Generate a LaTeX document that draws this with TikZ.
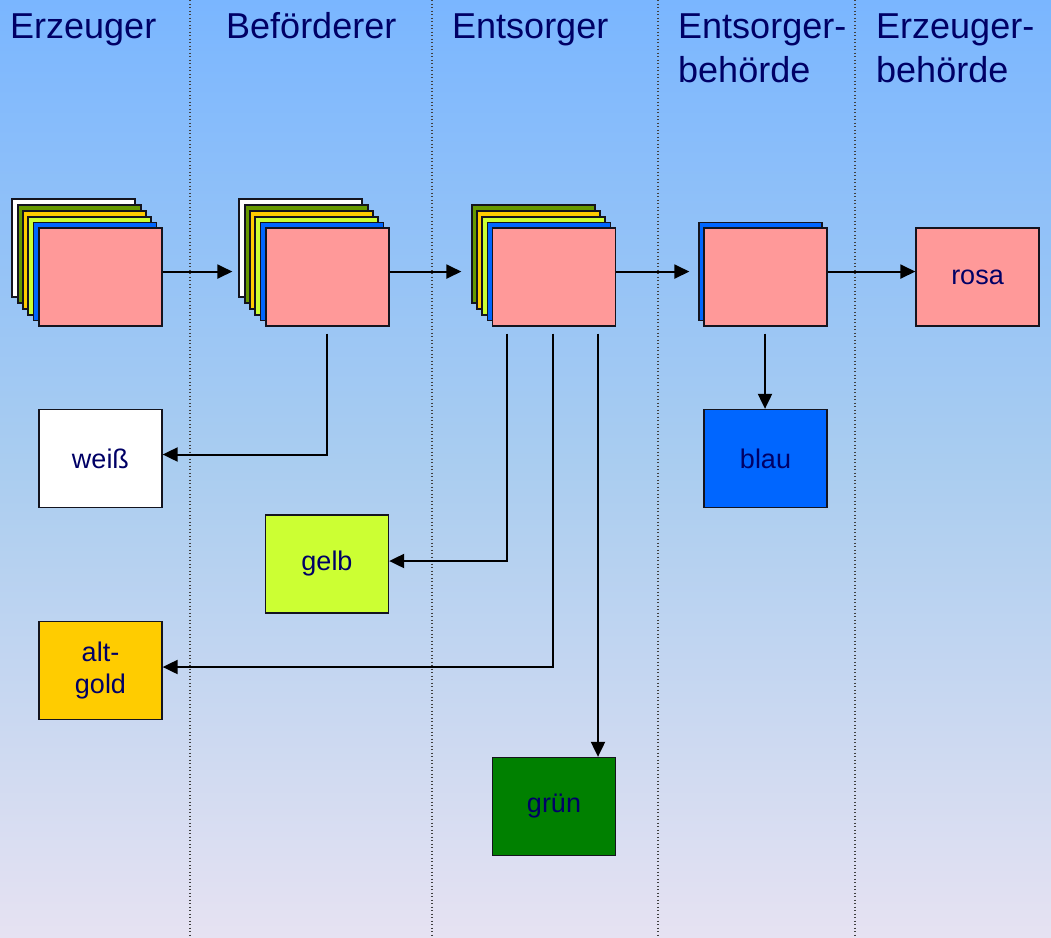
\documentclass[tikz,border=0pt]{standalone}
\usepackage{fontspec}
\setmainfont{Liberation Sans}
\usetikzlibrary{arrows.meta}
\definecolor{bgtop}{RGB}{122,182,255}
\definecolor{bgmid}{RGB}{170,205,240}
\definecolor{bgbot}{RGB}{230,226,242}
\definecolor{txt}{RGB}{0,0,102}
\definecolor{cpink}{RGB}{255,153,153}
\definecolor{colive}{RGB}{102,153,0}
\definecolor{cgold}{RGB}{255,204,0}
\definecolor{clime}{RGB}{204,255,51}
\definecolor{cblue}{RGB}{0,102,255}
\definecolor{cgreen}{RGB}{0,128,0}
\definecolor{edge}{RGB}{20,20,30}
\begin{document}
\begin{tikzpicture}[x=1pt,y=-1pt,
  card/.style={draw=edge,line width=1.3pt,minimum width=123pt,minimum height=98pt,inner sep=0pt,
    text=txt,font=\fontsize{27}{32}\selectfont,align=center},
  head/.style={anchor=base west,inner sep=0pt,text=txt,font=\fontsize{36}{44}\selectfont,align=left},
  sep/.style={draw=black!75,line width=1.2pt,dash pattern=on 1.3pt off 2.2pt},
  arr/.style={draw=black,line width=2pt,-{Triangle[length=15pt,width=14pt]}}]
\shade[top color=bgtop,bottom color=bgbot,middle color=bgmid] (0,0) rectangle (1051,937);
\useasboundingbox (0,0) rectangle (1051,937);
% column separators
\draw[sep] (190,0) -- (190,937);
\draw[sep] (432,0) -- (432,937);
\draw[sep] (658,0) -- (658,937);
\draw[sep] (855,0) -- (855,937);
% headers (baseline of the last line)
\node[head] (h1) at (10,38) {Erzeuger};
\node[head] (h2) at (226,38) {Beförderer};
\node[head] (h3) at (452,38) {Entsorger};
\node[head] (h4) at (678,82) {Entsorger-\\behörde};
\node[head] (h5) at (876,82) {Erzeuger-\\behörde};
% stack 1
\node[card,fill=white] (W1) at (73.5,248) {};
\node[card,fill=colive] (O1) at (79.5,254) {};
\node[card,fill=cgold] (G1) at (84.5,260) {};
\node[card,fill=clime] (L1) at (89.5,266) {};
\node[card,fill=cblue] (B1) at (95,271.5) {};
\node[card,fill=cpink] (P1) at (100.5,277) {};
% stack 2
\node[card,fill=white] (W2) at (300.5,248) {};
\node[card,fill=colive] (O2) at (306.5,254) {};
\node[card,fill=cgold] (G2) at (311.5,260) {};
\node[card,fill=clime] (L2) at (316.5,266) {};
\node[card,fill=cblue] (B2) at (322,271.5) {};
\node[card,fill=cpink] (P2) at (327.5,277) {};
% stack 3
\node[card,fill=colive] (O3) at (533.5,254) {};
\node[card,fill=cgold] (G3) at (538.5,260) {};
\node[card,fill=clime] (L3) at (543.5,266) {};
\node[card,fill=cblue] (B3) at (549,271.5) {};
\node[card,fill=cpink] (P3) at (554,277) {};
% stack 4
\node[card,fill=cblue] (B4) at (760.5,271.5) {};
\node[card,fill=cpink] (P4) at (765.5,277) {};
% single cards
\node[card,fill=cpink] (rosa) at (977.5,277) {rosa};
\node[card,fill=white] (weiss) at (100.5,458.5) {weiß};
\node[card,fill=cblue] (blau) at (765.5,458.5) {blau};
\node[card,fill=clime] (gelb) at (327,564) {gelb};
\node[card,fill=cgold] (altgold) at (100.5,670.5) {alt-\\gold};
\node[card,fill=cgreen] (gruen) at (554,806.5) {grün};
% horizontal arrows
\draw[arr,shorten >=6pt] (P1.5) -- (P1.5 -| W2.west);
\draw[arr,shorten >=10pt] (P2.5) -- (P2.5 -| O3.west);
\draw[arr,shorten >=9pt] (P3.5) -- (P3.5 -| B4.west);
\draw[arr] (P4.5) -- (P4.5 -| rosa.west);
% downward connectors
\draw[arr,shorten <=7pt] ([xshift=-1pt]P2.south) |- ([yshift=4pt]weiss.east);
\draw[arr,shorten <=7pt] ([xshift=-47pt]P3.south) |- ([yshift=3pt]gelb.east);
\draw[arr,shorten <=7pt] ([xshift=-1pt]P3.south) |- ([yshift=3.5pt]altgold.east);
\draw[arr,shorten <=7pt] ([xshift=44pt]P3.south) -- ([xshift=44pt]P3.south |- gruen.north);
\draw[arr,shorten <=7pt] ([xshift=-0.5pt]P4.south) -- ([xshift=-0.5pt]blau.north);
\end{tikzpicture}
\end{document}
